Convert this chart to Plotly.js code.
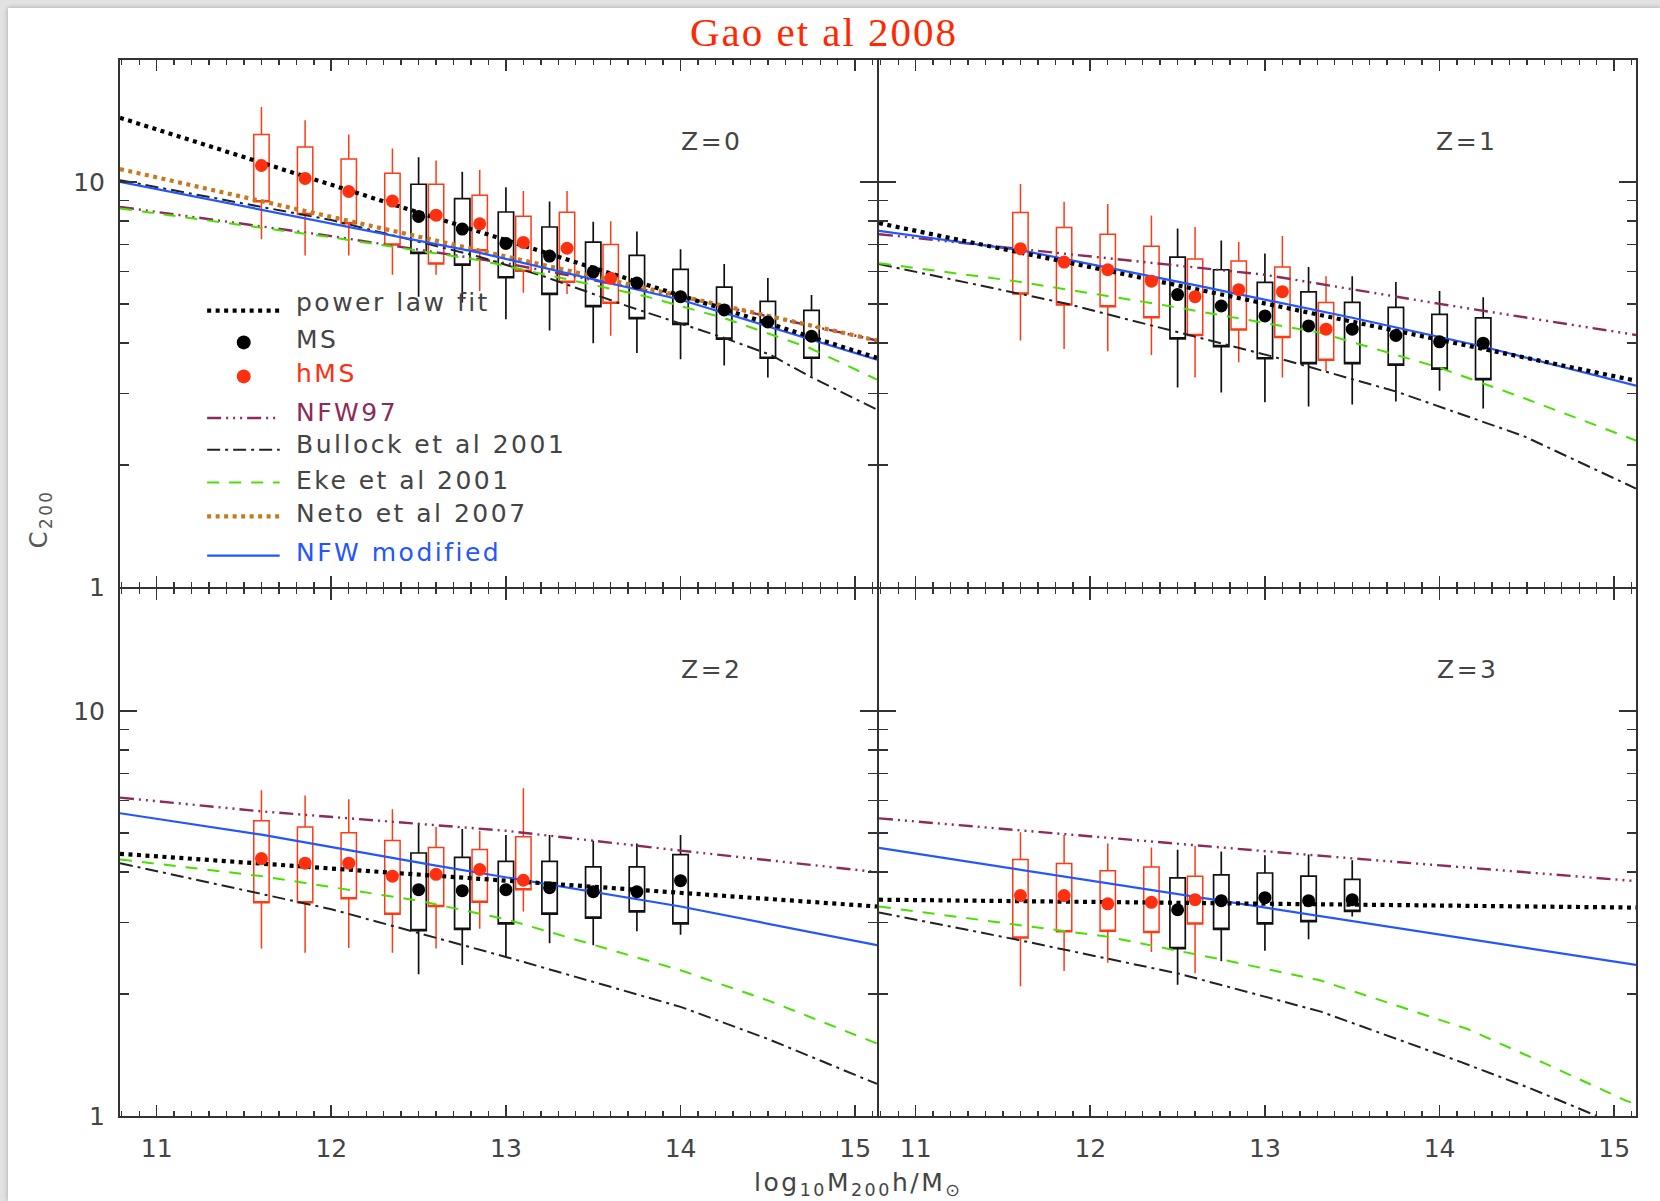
<!DOCTYPE html>
<html><head><meta charset="utf-8">
<script src="https://cdn.plot.ly/plotly-3.0.1.min.js"></script>
<style>
html,body{margin:0;padding:0;}
body{width:1660px;height:1201px;overflow:hidden;background:#e2e2e2;position:relative;}
#plot{position:absolute;left:8px;top:8px;width:1652px;height:1193px;background:#fff;box-shadow:0 0 5px rgba(0,0,0,0.28);}
.annotation-text{letter-spacing:2.5px;}
.gtitle{letter-spacing:2px;}
</style></head>
<body><div id="plot"></div>
<script>
// ---------------- data ----------------
const panelLabels = ['Z=0', 'Z=1', 'Z=2', 'Z=3'];
const xTickVals = [11, 12, 13, 14, 15];
const xTickText = ['11', '12', '13', '14', '15'];
const yTickVals = [1, 10];
const yTickText = ['1', '10'];

// MS (black boxes): log10 M positions, mean c200, quartiles and whisker ends, per panel Z=0..3
const msMass = [
  [12.5, 12.75, 13.0, 13.25, 13.5, 13.75, 14.0, 14.25, 14.5, 14.75],
  [12.5, 12.75, 13.0, 13.25, 13.5, 13.75, 14.0, 14.25],
  [12.5, 12.75, 13.0, 13.25, 13.5, 13.75, 14.0],
  [12.5, 12.75, 13.0, 13.25, 13.5]
];
const msMean = [
  [8.22, 7.65, 7.05, 6.56, 6.0, 5.63, 5.21, 4.83, 4.51, 4.16],
  [5.27, 4.94, 4.67, 4.41, 4.33, 4.18, 4.03, 4.0],
  [3.62, 3.60, 3.62, 3.66, 3.58, 3.58, 3.81],
  [3.23, 3.40, 3.46, 3.40, 3.42]
];
const msQ3 = [
  [9.87, 9.09, 8.43, 7.74, 7.10, 6.59, 6.08, 5.50, 5.07, 4.82],
  [6.52, 6.07, 5.65, 5.35, 5.04, 4.90, 4.71, 4.62],
  [4.46, 4.35, 4.25, 4.25, 4.12, 4.12, 4.42],
  [3.87, 3.94, 3.98, 3.91, 3.84]
];
const msQ1 = [
  [6.66, 6.23, 5.80, 5.28, 4.92, 4.60, 4.45, 4.09, 3.67, 3.67],
  [4.10, 3.92, 3.66, 3.56, 3.56, 3.53, 3.45, 3.25],
  [2.87, 2.89, 2.98, 3.15, 3.08, 3.19, 2.98],
  [2.59, 2.89, 2.98, 3.02, 3.20]
];
const msHigh = [
  [11.5, 10.6, 9.70, 8.95, 7.98, 7.54, 6.82, 6.27, 5.79, 5.26],
  [7.67, 7.17, 6.66, 6.17, 5.85, 5.66, 5.38, 5.19],
  [5.29, 5.11, 4.94, 4.94, 4.78, 4.71, 4.94],
  [4.54, 4.50, 4.40, 4.42, 4.28]
];
const msLow = [
  [5.21, 5.04, 4.58, 4.30, 4.0, 3.78, 3.65, 3.52, 3.29, 3.31],
  [3.11, 3.02, 2.86, 2.79, 2.82, 2.87, 3.05, 2.76],
  [2.24, 2.36, 2.47, 2.67, 2.64, 2.86, 2.80],
  [2.11, 2.41, 2.56, 2.73, 3.11]
];

// hMS (red boxes)
const hmsMass = [
  [11.6, 11.85, 12.1, 12.35, 12.6, 12.85, 13.1, 13.35, 13.6],
  [11.6, 11.85, 12.1, 12.35, 12.6, 12.85, 13.1, 13.35],
  [11.6, 11.85, 12.1, 12.35, 12.6, 12.85, 13.1],
  [11.6, 11.85, 12.1, 12.35, 12.6]
];
const hmsMean = [
  [10.98, 10.2, 9.47, 8.97, 8.28, 7.88, 7.09, 6.86, 5.78],
  [6.84, 6.34, 6.07, 5.69, 5.21, 5.42, 5.36, 4.33],
  [4.32, 4.21, 4.21, 3.91, 3.95, 4.06, 3.82],
  [3.50, 3.50, 3.34, 3.37, 3.42]
];
const hmsQ3 = [
  [13.1, 12.2, 11.4, 10.5, 9.87, 9.27, 8.23, 8.42, 7.01],
  [8.41, 7.72, 7.43, 6.94, 6.45, 6.38, 6.17, 5.04],
  [5.36, 5.17, 5.0, 4.79, 4.60, 4.55, 4.89],
  [4.30, 4.20, 4.03, 4.12, 3.91]
];
const hmsQ1 = [
  [8.93, 8.31, 7.88, 6.99, 6.27, 6.76, 6.02, 5.65, 5.02],
  [5.29, 4.97, 4.92, 4.62, 4.18, 4.31, 4.13, 3.63],
  [3.36, 3.36, 3.44, 3.15, 3.29, 3.37, 3.62],
  [2.75, 2.85, 2.86, 2.84, 2.98]
];
const hmsHigh = [
  [15.3, 14.2, 13.1, 12.1, 11.3, 10.7, 9.5, 9.5, 8.0],
  [9.89, 8.93, 8.82, 8.26, 7.74, 7.11, 7.35, 5.85],
  [6.37, 6.18, 6.05, 5.72, 5.17, 5.06, 6.44],
  [5.02, 4.94, 4.71, 4.60, 4.65]
];
const hmsLow = [
  [7.22, 6.58, 6.58, 5.90, 5.90, 5.38, 5.33, 5.29, 4.17],
  [4.06, 3.87, 3.82, 3.74, 3.29, 3.59, 3.29, 3.41],
  [2.59, 2.53, 2.60, 2.53, 2.59, 2.90, 3.20],
  [2.09, 2.28, 2.39, 2.54, 2.25]
];

// model curves, per panel: x = log10 M, y = c200
const powerLawX = [[10.79, 15.125], [10.79, 15.125], [10.79, 15.125], [10.79, 15.125]];
const powerLawC = [[14.4, 3.68], [7.91, 3.23], [4.44, 3.29], [3.42, 3.27]];

const nfw97X = [
  [10.79, 12.0, 13.0, 14.0, 15.125],
  [10.79, 12.0, 13.0, 14.0, 15.125],
  [10.79, 11.6, 13.0, 14.0, 15.125],
  [10.79, 13.23, 15.125]
];
const nfw97C = [
  [8.68, 7.35, 6.3, 5.2, 4.06],
  [7.43, 6.55, 5.9, 5.0, 4.19],
  [6.11, 5.65, 5.06, 4.52, 4.0],
  [5.43, 4.42, 3.80]
];

const bullockX = [
  [10.79, 12.0, 12.84, 13.22, 13.70, 13.99, 14.25, 14.51, 14.74, 15.125],
  [10.79, 11.57, 11.86, 13.03, 13.76, 14.48, 15.125],
  [10.79, 12.0, 13.0, 14.0, 14.5, 15.125],
  [10.79, 11.57, 12.5, 13.32, 14.12, 14.52, 14.77, 14.90]
];
const bullockC = [
  [10.1, 8.05, 6.55, 5.84, 4.93, 4.49, 4.12, 3.75, 3.31, 2.74],
  [6.27, 5.33, 5.01, 3.72, 3.03, 2.36, 1.75],
  [4.21, 3.24, 2.47, 1.86, 1.55, 1.20],
  [3.18, 2.73, 2.25, 1.81, 1.36, 1.17, 1.056, 1.0]
];

const ekeX = [
  [10.79, 12.0, 12.84, 13.8, 14.25, 14.74, 15.125],
  [10.79, 11.57, 12.45, 13.32, 13.99, 14.48, 15.125],
  [10.79, 11.6, 12.5, 13.0, 14.0, 14.5, 15.125],
  [10.79, 11.57, 12.1, 12.74, 13.32, 14.16, 14.6, 15.07, 15.125]
];
const ekeC = [
  [8.6, 7.3, 6.42, 5.22, 4.61, 3.89, 3.25],
  [6.30, 5.69, 4.94, 4.24, 3.49, 2.93, 2.30],
  [4.30, 3.91, 3.40, 3.06, 2.29, 1.93, 1.51],
  [3.29, 2.97, 2.77, 2.44, 2.16, 1.64, 1.35, 1.09, 1.07]
];

const netoX = [[10.79, 15.125]];
const netoC = [[10.76, 4.06]];

const nfwModX = [
  [10.79, 12.0, 12.84, 14.0, 14.74, 15.125],
  [10.79, 11.62, 12.6, 13.5, 14.24, 15.125],
  [10.79, 11.6, 12.6, 14.0, 15.125],
  [10.79, 13.23, 15.125]
];
const nfwModC = [
  [10.0, 7.88, 6.70, 5.12, 4.08, 3.64],
  [7.57, 6.76, 5.56, 4.62, 3.93, 3.14],
  [5.59, 4.95, 4.15, 3.29, 2.64],
  [4.59, 3.15, 2.36]
];

const legendLabels = ['power law fit', 'MS', 'hMS', 'NFW97', 'Bullock et al 2001', 'Eke et al 2001', 'Neto et al 2007', 'NFW modified'];

// ---------------- styles ----------------
const RED = '#ff3010';
const BOXRED = '#ff3a14';
const MAROON = '#8c2a5c';
const GREEN = '#48e000';
const ORANGE = '#c8781e';
const BLUE = '#2456ff';
const styles = {
  power: {color: '#000', width: 4.2, dash: '4px,4.5px'},
  nfw97: {color: MAROON, width: 2.4, dash: '14px,5px,2px,5px,2px,5px,2px,5px'},
  bullock: {color: '#222', width: 2, dash: '13px,5px,3px,5px'},
  eke: {color: GREEN, width: 2, dash: '12px,10px'},
  neto: {color: ORANGE, width: 4.2, dash: '4px,4.5px'},
  nfwmod: {color: BLUE, width: 2.2}
};

// page geometry
const OFF = 8, W = 1652, H = 1193;
const M = {l: 111.5, r: 23.5, t: 52.3, b: 84.7};
const PW = W - M.l - M.r, PH = H - M.t - M.b;
const fx = px => (px - OFF - M.l) / PW;
const fy = py => 1 - (py - OFF - M.t) / PH;
const LW = 2;                       // frame line width
const gx = LW / 2 / PW, gy = LW / 2 / PH;   // half-gap so shared frame lines coincide

const axisIds = [['x3', 'y3'], ['x4', 'y4'], ['x', 'y'], ['x2', 'y2']];
const traces = [];

for (let p = 0; p < 4; p++) {
  const [xa, ya] = axisIds[p];
  const boxBase = {type: 'box', orientation: 'v', xaxis: xa, yaxis: ya, width: 0.088, whiskerwidth: 0,
    boxpoints: false, fillcolor: 'rgba(0,0,0,0)', showlegend: false, hoverinfo: 'skip'};
  traces.push(Object.assign({}, boxBase, {x: hmsMass[p], q1: hmsQ1[p], median: hmsQ1[p], q3: hmsQ3[p],
    lowerfence: hmsLow[p], upperfence: hmsHigh[p], line: {color: BOXRED, width: 1.5}}));
  traces.push(Object.assign({}, boxBase, {x: msMass[p], q1: msQ1[p], median: msQ1[p], q3: msQ3[p],
    lowerfence: msLow[p], upperfence: msHigh[p], line: {color: '#111', width: 1.7}}));

  const addLine = (xs, ys, st) => traces.push({type: 'scatter', mode: 'lines', xaxis: xa, yaxis: ya,
    x: xs, y: ys, line: st, showlegend: false, hoverinfo: 'skip', cliponaxis: true});
  addLine(nfw97X[p], nfw97C[p], styles.nfw97);
  addLine(bullockX[p], bullockC[p], styles.bullock);
  addLine(ekeX[p], ekeC[p], styles.eke);
  if (p === 0) addLine(netoX[0], netoC[0], styles.neto);
  addLine(nfwModX[p], nfwModC[p], styles.nfwmod);
  addLine(powerLawX[p], powerLawC[p], styles.power);

  traces.push({type: 'scatter', mode: 'markers', xaxis: xa, yaxis: ya, x: hmsMass[p], y: hmsMean[p],
    marker: {color: RED, size: 13}, showlegend: false, hoverinfo: 'skip'});
  traces.push({type: 'scatter', mode: 'markers', xaxis: xa, yaxis: ya, x: msMass[p], y: msMean[p],
    marker: {color: '#000', size: 13}, showlegend: false, hoverinfo: 'skip'});
}

const tickFont = {family: 'DejaVu Sans, sans-serif', size: 25, color: '#444'};
function xAxis(domain, anchor, labels) {
  return {domain, anchor, type: 'linear', range: [10.79, 15.125], tickmode: 'array', tickvals: xTickVals,
    ticktext: xTickText, ticks: 'inside', ticklen: 11, tickwidth: 1.6, tickcolor: '#333',
    minor: {tickmode: 'linear', tick0: 10.8, dtick: 0.1, ticks: 'inside', ticklen: 5, tickwidth: 1.4, tickcolor: '#333', showgrid: false},
    showline: true, linecolor: '#333', linewidth: LW, mirror: 'ticks', showgrid: false, zeroline: false,
    showticklabels: labels, tickfont: tickFont, ticklabelstandoff: 9, fixedrange: true};
}
function yAxis(domain, anchor, labels) {
  return {domain, anchor, type: 'log', range: [0, Math.log10(20)], tickmode: 'array', tickvals: yTickVals,
    ticktext: yTickText, ticks: 'inside', ticklen: 17, tickwidth: 1.6, tickcolor: '#333',
    minor: {tickmode: 'array', tickvals: [2, 3, 4, 5, 6, 7, 8, 9], ticks: 'inside', ticklen: 9, tickwidth: 1.4, tickcolor: '#333', showgrid: false},
    showline: true, linecolor: '#333', linewidth: LW, mirror: 'ticks', showgrid: false, zeroline: false,
    showticklabels: labels, tickfont: tickFont, ticklabelstandoff: 8, fixedrange: true};
}

// annotations
const annotations = [];
const zPos = [[711.5, 141.5], [1467, 141.5], [711.5, 670], [1468, 670]];
panelLabels.forEach((t, i) => annotations.push({xref: 'paper', yref: 'paper', x: fx(zPos[i][0]), y: fy(zPos[i][1]),
  xanchor: 'center', yanchor: 'middle', text: t, showarrow: false, font: {family: 'DejaVu Sans, sans-serif', size: 25, color: '#444'}}));

const legendTextY = [303, 339.5, 374, 413, 445, 480.5, 514, 553];
const legendColors = ['#444', '#444', RED, MAROON, '#444', '#444', '#444', BLUE];
legendLabels.forEach((t, i) => annotations.push({xref: 'paper', yref: 'paper', x: fx(294), y: fy(legendTextY[i]),
  xanchor: 'left', yanchor: 'middle', text: t, showarrow: false, font: {family: 'DejaVu Sans, sans-serif', size: 25, color: legendColors[i]}}));

annotations.push({xref: 'paper', yref: 'paper', x: fx(858), y: fy(1184), xanchor: 'center', yanchor: 'middle',
  text: 'log<sub>10</sub>M<sub>200</sub>h/M<sub>⊙</sub>', showarrow: false, font: {family: 'DejaVu Sans, sans-serif', size: 25, color: '#444'}});
annotations.push({xref: 'paper', yref: 'paper', x: fx(40), y: fy(519), xanchor: 'center', yanchor: 'middle', textangle: -90,
  text: 'C<sub>200</sub>', showarrow: false, font: {family: 'DejaVu Sans, sans-serif', size: 24, color: '#555'}});

// legend samples (shapes)
const shapes = [];
const lx0 = fx(206.7), lx1 = fx(279.3);
const legLine = (py, st) => shapes.push({type: 'line', xref: 'paper', yref: 'paper', x0: lx0, x1: lx1, y0: fy(py), y1: fy(py), line: st});
legLine(311, styles.power);
legLine(418.3, styles.nfw97);
legLine(450, styles.bullock);
legLine(482.7, styles.eke);
legLine(516.7, styles.neto);
legLine(556, styles.nfwmod);
const legDot = (py, col) => shapes.push({type: 'circle', xref: 'paper', yref: 'paper', x0: fx(243.3 - 7), x1: fx(243.3 + 7),
  y0: fy(py + 7), y1: fy(py - 7), fillcolor: col, line: {width: 0}});
legDot(342.7, '#000');
legDot(376.7, RED);

const layout = {
  width: W, height: H,
  margin: {l: M.l, r: M.r, t: M.t, b: M.b, pad: 0},
  paper_bgcolor: '#ffffff', plot_bgcolor: 'rgba(0,0,0,0)',
  showlegend: false,
  title: {text: 'Gao et al 2008', font: {family: 'Liberation Serif, Times New Roman, serif', size: 41, color: '#ff2800'},
    xref: 'container', yref: 'container', x: (824 - OFF) / W, xanchor: 'center', y: 1 - (32 - OFF) / H, yanchor: 'middle'},
  xaxis: xAxis([0, 0.5 - gx], 'y', true),
  xaxis2: xAxis([0.5 + gx, 1], 'y2', true),
  xaxis3: xAxis([0, 0.5 - gx], 'y3', false),
  xaxis4: xAxis([0.5 + gx, 1], 'y4', false),
  yaxis: yAxis([0, 0.5 - gy], 'x', true),
  yaxis2: yAxis([0, 0.5 - gy], 'x2', false),
  yaxis3: yAxis([0.5 + gy, 1], 'x3', true),
  yaxis4: yAxis([0.5 + gy, 1], 'x4', false),
  boxmode: 'overlay',
  annotations, shapes
};

Plotly.newPlot('plot', traces, layout, {staticPlot: true, displayModeBar: false});
</script>
</body></html>
